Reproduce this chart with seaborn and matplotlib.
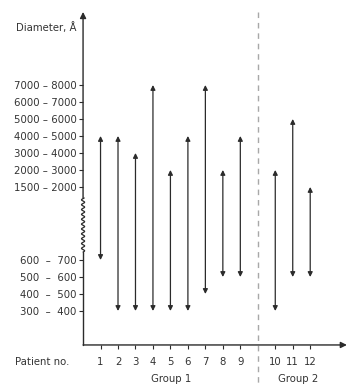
import numpy as np
import pandas as pd
import matplotlib
matplotlib.use("Agg")
import matplotlib.pyplot as plt
import seaborn as sns

# diameter classes (angstrom) on a broken axis
low_classes = ["300 – 400", "400 – 500", "500 – 600", "600 – 700"]
high_classes = ["1500 – 2000", "2000 – 3000", "3000 – 4000", "4000 – 5000",
                "5000 – 6000", "6000 – 7000", "7000 – 8000"]
low_labels = ["300  –  400", "400  –  500", "500  –  600", "600  –  700"]

patients = [1, 2, 3, 4, 5, 6, 7, 8, 9, 10, 11, 12]
groups = ["Group 1"] * 9 + ["Group 2"] * 3
smallest = ["600 – 700", "300 – 400", "300 – 400", "300 – 400", "300 – 400", "300 – 400",
            "400 – 500", "500 – 600", "500 – 600", "300 – 400", "500 – 600", "500 – 600"]
largest = ["4000 – 5000", "4000 – 5000", "3000 – 4000", "7000 – 8000", "2000 – 3000",
           "4000 – 5000", "7000 – 8000", "2000 – 3000", "4000 – 5000", "2000 – 3000",
           "5000 – 6000", "1500 – 2000"]

# position of each class on the broken y axis
gap = 4.3
ypos = {c: i for i, c in enumerate(low_classes)}
ypos.update({c: len(low_classes) - 1 + gap + i for i, c in enumerate(high_classes)})

df = pd.DataFrame({"patient": patients, "group": groups,
                   "low": [ypos[c] for c in smallest],
                   "high": [ypos[c] for c in largest]})
# leave one empty slot between the groups
df["x"] = df["patient"] + (df["group"] == "Group 2").astype(int)

sns.set_theme(style="white")
plt.rcParams["font.family"] = ["DejaVu Sans"]
ink = "#2b2b2b"
text_c = "#333333"

fig = plt.figure(figsize=(3.49, 3.85), dpi=100)
ax = fig.add_axes([0.238, 0.104, 0.756, 0.865])
ymin, ymax = -2, 17.6
ax.set_xlim(0, 15.1)
ax.set_ylim(ymin, ymax)
for s in ax.spines.values():
    s.set_visible(False)

for _, r in df.iterrows():
    ax.annotate("", xy=(r["x"], r["high"]), xytext=(r["x"], r["low"]),
                arrowprops=dict(arrowstyle="<|-|>", color=ink, lw=0.9,
                                mutation_scale=7, shrinkA=0, shrinkB=0))

# axes with arrow heads
brk_lo, brk_hi = 3.47, 6.65
ax.annotate("", xy=(15.1, ymin), xytext=(0, ymin), annotation_clip=False,
            arrowprops=dict(arrowstyle="-|>", color=ink, lw=1.0,
                            mutation_scale=9, shrinkA=0, shrinkB=0))
ax.annotate("", xy=(0, ymax), xytext=(0, brk_hi), annotation_clip=False,
            arrowprops=dict(arrowstyle="-|>", color=ink, lw=1.0,
                            mutation_scale=9, shrinkA=0, shrinkB=0))
ax.plot([0, 0], [ymin, brk_lo], color=ink, lw=1.0, clip_on=False)
t = np.linspace(brk_lo, brk_hi, 300)
ax.plot(0.09 * np.sin((t - brk_lo) * 2 * np.pi * 3.5), t, color=ink, lw=0.9, clip_on=False)

# group separator
sep = df.loc[df["group"] == "Group 1", "x"].max() + 1
ax.plot([sep, sep], [ymax, ymin - 2.4], color="#a8a8a8", lw=1.0,
        ls=(0, (4, 3.5)), clip_on=False)

ax.set_yticks(list(ypos.values()))
ax.set_yticklabels(low_labels + high_classes)
ax.set_xticks(df["x"])
ax.set_xticklabels(df["patient"])
ax.tick_params(axis="y", direction="out", length=3, width=0.8, color=ink,
               pad=1.5, labelsize=7.3, labelcolor=text_c, left=True)
ax.tick_params(axis="x", direction="out", length=3, width=0.8, color=ink,
               pad=6, labelsize=7.3, labelcolor=text_c, bottom=True)

ax.text(-0.8, ymin - 1.0, "Patient no.", ha="right", va="center",
        fontsize=7.3, color=text_c, clip_on=False)
shift = {"Group 1": 0.05, "Group 2": 0.3}
for g, sub in df.groupby("group"):
    ax.text(sub["x"].mean() + shift[g], ymin - 2.0, g, ha="center", va="center",
            fontsize=7.3, color=text_c, clip_on=False)
ax.text(-0.4, 16.7, "Diameter, Å", ha="right", va="center",
        fontsize=7.3, color=text_c, clip_on=False)

fig.savefig("out.png", dpi=100)
